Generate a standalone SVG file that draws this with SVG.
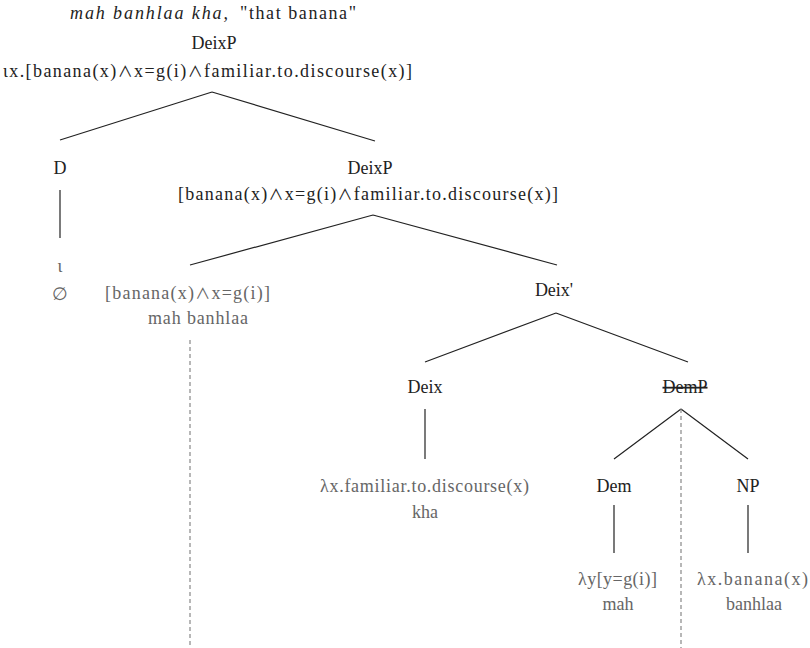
<svg xmlns="http://www.w3.org/2000/svg" width="810" height="648" viewBox="0 0 810 648">
<style>
text{font-family:"Liberation Serif","DejaVu Serif",serif;font-size:18px;text-anchor:middle;fill:#222}
.w{font-family:"Noto Sans CJK JP","DejaVu Sans",sans-serif;font-size:15px}
.g{fill:#666}
.it{font-style:italic}
.s{text-anchor:start}
.e{stroke:#222;stroke-width:1.2;fill:none}
.d{stroke:#888;stroke-width:1.2;stroke-dasharray:4 3;fill:none}
</style>
<rect width="810" height="648" fill="#fff"/>
<g id="title"><text class="s it" x="70" y="19" textLength="158" lengthAdjust="spacing">mah banhlaa kha,</text><text class="s" x="240" y="19" textLength="116" lengthAdjust="spacing">"that banana"</text></g>
<g id="root"><text x="214" y="49">DeixP</text><text class="s" x="3" y="77" textLength="409" lengthAdjust="spacing">ιx.[banana(x)<tspan class="w">∧</tspan>x=g(i)<tspan class="w">∧</tspan>familiar.to.discourse(x)]</text></g>
<g id="D"><text x="60" y="174">D</text></g>
<g id="DeixP2"><text x="370" y="174">DeixP</text><text class="s" x="178" y="200" textLength="380" lengthAdjust="spacing">[banana(x)<tspan class="w">∧</tspan>x=g(i)<tspan class="w">∧</tspan>familiar.to.discourse(x)]</text></g>
<g id="iota"><text class="g" x="60" y="272">ι</text><text class="g" x="60" y="300">∅</text></g>
<g id="spec"><text class="g s" x="105" y="299" textLength="165" lengthAdjust="spacing">[banana(x)<tspan class="w">∧</tspan>x=g(i)]</text><text class="g s" x="148" y="324" textLength="100" lengthAdjust="spacing">mah  banhlaa</text></g>
<g id="DeixBar"><text x="554" y="296">Deix'</text></g>
<g id="Deix"><text x="425" y="393">Deix</text></g>
<g id="DemP"><text x="685" y="393" text-decoration="line-through">DemP</text></g>
<g id="DeixLeaf"><text class="g s" x="320" y="492" textLength="209" lengthAdjust="spacing">λx.familiar.to.discourse(x)</text><text class="g" x="425" y="518">kha</text></g>
<g id="Dem"><text x="614" y="492">Dem</text></g>
<g id="NP"><text x="748" y="492">NP</text></g>
<g id="DemLeaf"><text class="g s" x="578" y="585" textLength="79" lengthAdjust="spacing">λy[y=g(i)]</text><text class="g" x="618" y="610">mah</text></g>
<g id="NPLeaf"><text class="g s" x="697" y="585" textLength="111" lengthAdjust="spacing">λx.banana(x)</text><text class="g" x="754" y="610">banhlaa</text></g>
<g id="connectors">
<path class="e" d="M212 92L60 140M212 92L375 141"/>
<path class="e" d="M60 190V238"/>
<path class="e" d="M373 215L190 265M373 215L557 265"/>
<path class="e" d="M556 313L425 362M556 313L688 362"/>
<path class="e" d="M425 409V459"/>
<path class="e" d="M681 409L614 459M681 409L748 459"/>
<path class="e" d="M614 505V553M748 505V553"/>
<path class="d" d="M190 340V648M681 409V648"/>
</g>
</svg>
